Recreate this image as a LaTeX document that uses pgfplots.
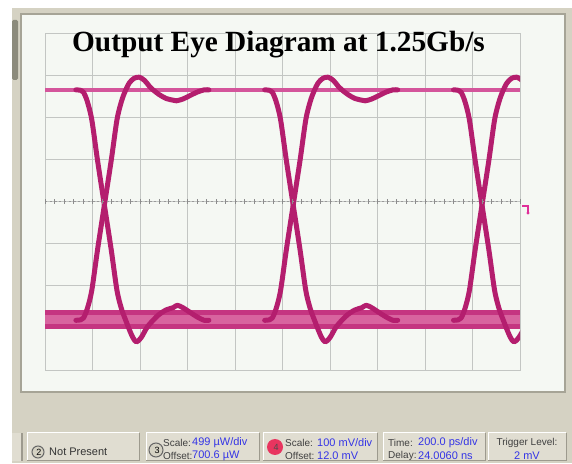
\documentclass[border=0pt]{standalone}
\usepackage{fontspec}
\setmainfont{Liberation Serif}
\newfontfamily\uifont{Liberation Sans}
\usepackage{pgfplots}
\pgfplotsset{compat=1.18}
\definecolor{bg}{HTML}{D5D2C3}
\definecolor{darkbar}{HTML}{8C8B7C}
\definecolor{panelbg}{HTML}{F5F8F3}
\definecolor{panelborder}{HTML}{A6A496}
\definecolor{gridgray}{HTML}{C3C6C3}
\definecolor{topline}{HTML}{D4559B}
\definecolor{edge}{HTML}{B41E6E}
\definecolor{band}{HTML}{C53581}
\definecolor{bandin}{HTML}{D8649F}
\definecolor{valblue}{HTML}{3434E6}
\definecolor{btnface}{HTML}{E0DDD1}
\definecolor{btnshadow}{HTML}{9D9A8E}
\definecolor{marker}{HTML}{E0309A}
\definecolor{redbtn}{HTML}{E8355F}
\begin{document}
\begin{tikzpicture}
\begin{scope}[x=1pt,y=1pt]
\useasboundingbox (0,0) rectangle (572,463);
\fill[white] (0,0) rectangle (572,463);
\fill[bg] (12,0) rectangle (572,455);
\fill[darkbar, rounded corners=1.5pt] (12,383) rectangle (18,443);
\fill[panelbg] (21,71) rectangle (565,449);
\draw[panelborder, line width=2pt] (21,71) rectangle (565,449);
\end{scope}

\begin{axis}[at={(45pt,93pt)}, anchor=south west,
  width=475pt, height=337pt, scale only axis,
  xmin=0, xmax=2000, ymin=-400, ymax=400,
  xtick={0,200,...,2000}, ytick={-400,-300,...,400},
  xticklabel=\empty, yticklabel=\empty,
  major tick length=0pt,
  grid=major, grid style={gridgray, line width=0.8pt},
  axis line style={gridgray, line width=0.8pt},
  axis background/.style={fill=panelbg},
  every axis plot/.append style={line join=round, line cap=round}]
% bottom noisy band ("0" level)
\addplot[band, line width=19pt, line cap=butt] coordinates {(0,-281) (2000,-281)};
\addplot[bandin, line width=9pt, line cap=butt] coordinates {(0,-279) (2000,-279)};
% top "1" level
\addplot[topline, line width=4.5pt, line cap=butt] coordinates {(0,265) (2000,265)};
% crossing 1 (250 ps)
\addplot[edge, line width=5pt, smooth] coordinates {(130,-282) (150,-281) (162,-276.5) (178,-254.7) (197,-210.9) (221,-115.2) (250,-8.5) (279,98.2) (303,193.9) (322,237.7) (338,262.3) (355,281.4) (375,292.4) (397,295.1) (420,286.9) (440,273.2) (455,265) (480,254.1) (510,244.5) (540,240.4) (553,239.0) (580,243.1) (610,251.3) (640,259.5) (670,265) (690,265)};
\addplot[edge, line width=5pt, smooth] coordinates {(130,265) (150,264) (162,259.5) (178,237.7) (197,193.9) (221,98.2) (250,-8.5) (279,-115.2) (303,-210.9) (322,-254.7) (338,-279.3) (355,-303.9) (370,-323.0) (385,-333.4) (405,-323.0) (430,-298.4) (455,-282) (480,-268.3) (510,-257.4) (540,-251.9) (557,-246.4) (580,-251.9) (610,-262.9) (640,-273.8) (670,-282) (690,-282)};
% crossing 2 (1045 ps)
\addplot[edge, line width=5pt, smooth] coordinates {(925,-282) (945,-281) (957,-276.5) (973,-254.7) (992,-210.9) (1016,-115.2) (1045,-8.5) (1074,98.2) (1098,193.9) (1117,237.7) (1133,262.3) (1150,281.4) (1170,292.4) (1192,295.1) (1215,286.9) (1235,273.2) (1250,265) (1275,254.1) (1305,244.5) (1335,240.4) (1348,239.0) (1375,243.1) (1405,251.3) (1435,259.5) (1465,265) (1485,265)};
\addplot[edge, line width=5pt, smooth] coordinates {(925,265) (945,264) (957,259.5) (973,237.7) (992,193.9) (1016,98.2) (1045,-8.5) (1074,-115.2) (1098,-210.9) (1117,-254.7) (1133,-279.3) (1150,-303.9) (1165,-323.0) (1180,-333.4) (1200,-323.0) (1225,-298.4) (1250,-282) (1275,-268.3) (1305,-257.4) (1335,-251.9) (1352,-246.4) (1375,-251.9) (1405,-262.9) (1435,-273.8) (1465,-282) (1485,-282)};
% crossing 3 (1840 ps)
\addplot[edge, line width=5pt, smooth] coordinates {(1720,-282) (1740,-281) (1752,-276.5) (1768,-254.7) (1787,-210.9) (1811,-115.2) (1840,-8.5) (1869,98.2) (1893,193.9) (1912,237.7) (1928,262.3) (1945,281.4) (1965,292.4) (1987,295.1) (2010,286.9) (2030,273.2)};
\addplot[edge, line width=5pt, smooth] coordinates {(1720,265) (1740,264) (1752,259.5) (1768,237.7) (1787,193.9) (1811,98.2) (1840,-8.5) (1869,-115.2) (1893,-210.9) (1912,-254.7) (1928,-279.3) (1945,-303.9) (1960,-323.0) (1975,-333.4) (1995,-323.0) (2020,-298.4)};
\end{axis}

\begin{scope}[x=1pt,y=1pt]
% centre graticule line with minor ticks
\draw[gray!80, line width=0.8pt, dash pattern=on 2pt off 2.75pt] (45,261.5) -- (520,261.5);
\foreach \k in {0,...,50} {\draw[gray!90, line width=0.7pt] ({45+\k*9.5},259) -- ({45+\k*9.5},264);}
% channel marker
\draw[marker, line width=1.3pt] (522,257) -- (528,257) -- (528,251);
\fill[marker] (528,250) circle (1.6);
% title
\node[anchor=base west, inner sep=0pt] at (72,411.5) {\bfseries\fontsize{29.3}{32}\selectfont Output Eye Diagram at 1.25Gb/s};
% toolbar
\fill[btnface] (12,2) rectangle (22,30);
\draw[btnshadow, line width=1.2pt] (22,2) -- (22,30);
\foreach \a/\b in {27/139, 146/259, 263/377, 383/485, 488/566} {
  \fill[btnface] (\a,2) rectangle (\b,30);
  \draw[white, line width=1pt] (\a,2) -- (\a,30) -- (\b,30);
  \draw[btnshadow, line width=1pt] (\a,2) -- (\b,2) -- (\b,30);
}
% circles
\filldraw[fill=bg, draw=black!60, line width=1pt] (38,11) circle (6);
\node[font=\uifont\fontsize{9}{9}\selectfont] at (39,11) {2};
\filldraw[fill=bg, draw=black!60, line width=1pt] (156,13) circle (7);
\node[font=\uifont\fontsize{9}{9}\selectfont] at (157,13) {3};
\fill[redbtn] (275,16) circle (8);
\node[font=\uifont\fontsize{9}{9}\selectfont, text=black!70] at (276,16) {4};
% texts
\node[anchor=west, inner sep=0pt, font=\uifont\fontsize{11}{11}\selectfont, text=black!80] at (49,11) {Not Present};
\begin{scope}[every node/.style={anchor=west, inner sep=0pt}]
\node[font=\uifont\fontsize{10}{10}\selectfont, text=black!75] at (163,20) {Scale:};
\node[font=\uifont\fontsize{10}{10}\selectfont, text=black!75] at (163,7) {Offset:};
\node[font=\uifont\fontsize{11}{11}\selectfont, text=valblue] at (192,20) {499 µW/div};
\node[font=\uifont\fontsize{11}{11}\selectfont, text=valblue] at (192,7) {700.6 µW};
\node[font=\uifont\fontsize{10}{10}\selectfont, text=black!75] at (285,20) {Scale:};
\node[font=\uifont\fontsize{10}{10}\selectfont, text=black!75] at (285,7) {Offset:};
\node[font=\uifont\fontsize{11}{11}\selectfont, text=valblue] at (317,20) {100 mV/div};
\node[font=\uifont\fontsize{11}{11}\selectfont, text=valblue] at (317,7) {12.0 mV};
\node[font=\uifont\fontsize{10}{10}\selectfont, text=black!75] at (388,20) {Time:};
\node[font=\uifont\fontsize{10}{10}\selectfont, text=black!75] at (388,7) {Delay:};
\node[font=\uifont\fontsize{11}{11}\selectfont, text=valblue] at (418,20) {200.0 ps/div};
\node[font=\uifont\fontsize{11}{11}\selectfont, text=valblue] at (418,7) {24.0060 ns};
\end{scope}
\node[font=\uifont\fontsize{10}{10}\selectfont, text=black!75] at (527,20) {Trigger Level:};
\node[font=\uifont\fontsize{11}{11}\selectfont, text=valblue] at (527,7) {2 mV};
\end{scope}
\end{tikzpicture}
\end{document}
